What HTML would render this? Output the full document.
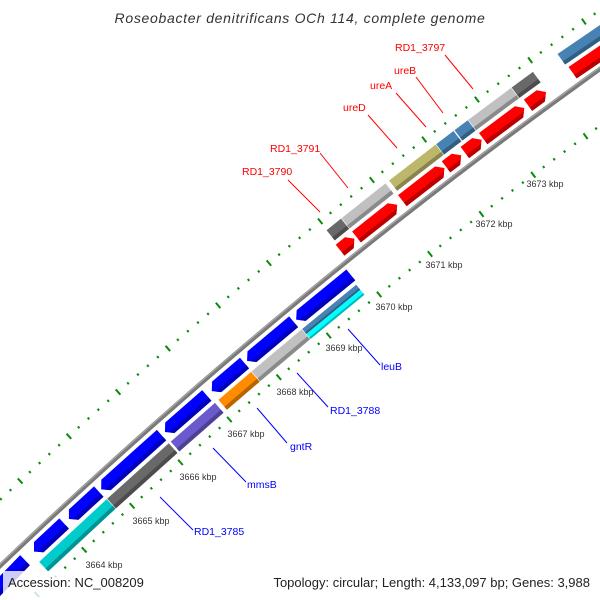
<!DOCTYPE html>
<html><head><meta charset="utf-8">
<style>
html,body{margin:0;padding:0;background:#fff;width:600px;height:600px;overflow:hidden;}
svg{display:block;font-family:"Liberation Sans","DejaVu Sans",sans-serif;}
</style></head>
<body>
<svg id="s" width="600" height="600" viewBox="0 0 600 600" xmlns="http://www.w3.org/2000/svg">
<rect width="600" height="600" fill="#fff"/>
<g id="map"></g>
<g font-size="10.5">
<line x1="288" y1="180" x2="320" y2="212" stroke="#f00" stroke-width="1"/>
<line x1="320" y1="153" x2="348" y2="188" stroke="#f00" stroke-width="1"/>
<line x1="368" y1="115" x2="397" y2="148" stroke="#f00" stroke-width="1"/>
<line x1="396" y1="93" x2="426" y2="127" stroke="#f00" stroke-width="1"/>
<line x1="416" y1="77" x2="443" y2="113" stroke="#f00" stroke-width="1"/>
<line x1="445" y1="55" x2="473" y2="89" stroke="#f00" stroke-width="1"/>
<text x="242" y="175" fill="#f00">RD1_3790</text>
<text x="270" y="152" fill="#f00">RD1_3791</text>
<text x="343" y="111" fill="#f00">ureD</text>
<text x="370" y="89" fill="#f00">ureA</text>
<text x="394" y="74" fill="#f00">ureB</text>
<text x="395" y="51" fill="#f00">RD1_3797</text>
<line x1="348" y1="329" x2="380" y2="365" stroke="#00f" stroke-width="1"/>
<line x1="297" y1="373" x2="328" y2="407" stroke="#00f" stroke-width="1"/>
<line x1="257" y1="408" x2="287" y2="443" stroke="#00f" stroke-width="1"/>
<line x1="213" y1="448" x2="246" y2="482" stroke="#00f" stroke-width="1"/>
<line x1="160" y1="497" x2="193" y2="530" stroke="#00f" stroke-width="1"/>
<text x="381" y="370" fill="#00f">leuB</text>
<text x="330" y="414" fill="#00f">RD1_3788</text>
<text x="290" y="450" fill="#00f">gntR</text>
<text x="247" y="488" fill="#00f">mmsB</text>
<text x="194" y="535" fill="#00f">RD1_3785</text>
</g>
<g font-size="9" fill="#333" text-anchor="middle">
<text x="104" y="568">3664 kbp</text>
<text x="151" y="524">3665 kbp</text>
<text x="198" y="480">3666 kbp</text>
<text x="246" y="437">3667 kbp</text>
<text x="295" y="395">3668 kbp</text>
<text x="344" y="351">3669 kbp</text>
<text x="394" y="310">3670 kbp</text>
<text x="444" y="268">3671 kbp</text>
<text x="494" y="227">3672 kbp</text>
<text x="545" y="187">3673 kbp</text>
</g>
<text x="300" y="23" font-size="14" font-style="italic" fill="#333" text-anchor="middle" letter-spacing="0.7">Roseobacter denitrificans OCh 114, complete genome</text>
<rect x="3" y="571" width="148" height="29" fill="#fff" fill-opacity="0.8"/>
<rect x="255" y="571" width="342" height="29" fill="#fff" fill-opacity="0.8"/>
<text x="8" y="587" font-size="13" fill="#222">Accession: NC_008209</text>
<text x="590" y="587" font-size="13" fill="#222" text-anchor="end">Topology: circular; Length: 4,133,097 bp; Genes: 3,988</text>
</svg>
<script>
(function(){
var NS="http://www.w3.org/2000/svg";
var g=document.getElementById("map");
var CX=3801,CY=4544,R=5502;
function pt(k,r){var t=(227.06+(k-3664)*0.683)*Math.PI/180;return [CX+r*Math.cos(t),CY+r*Math.sin(t)];}
function el(n,a){var e=document.createElementNS(NS,n);for(var x in a)e.setAttribute(x,a[x]);g.appendChild(e);return e;}
function poly(ps,fill){el("polygon",{points:ps.map(function(p){return p[0].toFixed(2)+","+p[1].toFixed(2)}).join(" "),fill:fill});}
function dark(c,f){var n=parseInt(c.slice(1),16);var r=(n>>16)&255,gg=(n>>8)&255,b=n&255;
 return "rgb("+Math.round(r*f)+","+Math.round(gg*f)+","+Math.round(b*f)+")";}
function line(k1,k2,r){var ps=[];for(var k=k1;k<=k2;k+=0.5)ps.push(pt(k,r));return ps;}
var bb=line(3655,3680,R);
el("polyline",{points:bb.map(function(p){return p.join(",")}).join(" "),fill:"none",stroke:"#7a7a7a","stroke-width":4.5});
var bb2=line(3655,3680,R+1.3);
el("polyline",{points:bb2.map(function(p){return p.join(",")}).join(" "),fill:"none",stroke:"#a8a8a8","stroke-width":1.2});
function ticks(r){
 for(var i=0;i<=100;i++){var k=3659+i*0.2;var major=(i%5==0);
  var h=major?3.5:1.2;var a=pt(k,r-h),b=pt(k,r+h);
  el("line",{x1:a[0],y1:a[1],x2:b[0],y2:b[1],stroke:"#0a8a0a","stroke-width":2});}
}
ticks(R+48);ticks(R-46);
var TIP=0.1;
function gene(k1,k2,ri,ro,col,dir){
 var rm=(ri+ro)/2, rs=ri+(ro-ri)*0.3;
 function shape(a,b){
  var ps;
  if(dir==1){var kt=Math.max(k1,k2-TIP);
   ps=[pt(k1,a),pt(k1,b),pt(kt,b),pt(k2,rm),pt(kt,a)];
  }else if(dir==-1){var kt2=Math.min(k2,k1+TIP);
   ps=[pt(k2,a),pt(k2,b),pt(kt2,b),pt(k1,rm),pt(kt2,a)];
  }else ps=[pt(k1,a),pt(k1,b),pt(k2,b),pt(k2,a)];
  return ps;}
 poly(shape(ri,ro),col);
 var ps;
 if(dir==0){ps=[pt(k1,ri),pt(k1,rs),pt(k2,rs),pt(k2,ri)];}
 else if(dir==1){var kt=Math.max(k1,k2-TIP);var f=(rs-ri)/(rm-ri);var kk=kt+(k2-kt)*f;
  ps=[pt(k1,ri),pt(k1,rs),pt(kk,rs),pt(kt,ri)];}
 else {var kt2=Math.min(k2,k1+TIP);var f2=(rs-ri)/(rm-ri);var kk2=kt2-(kt2-k1)*f2;
  ps=[pt(k2,ri),pt(k2,rs),pt(kk2,rs),pt(kt2,ri)];}
 poly(ps,dark(col,0.72));
}
var Ri1=R-20,Ro1=R-6,Ri2=R-37,Ro2=R-24;
[[3656,3663.23],[3663.42,3664.05],[3664.15,3664.77],[3664.82,3666.06],[3666.13,3666.98],[3667.08,3667.74],[3667.79,3668.72],[3668.77,3669.85]]
.forEach(function(a){gene(a[0],a[1],Ri1,Ro1,"#0000ff",-1);});
gene(3663.37,3664.78,Ri2,Ro2,"#00cccc",0);
gene(3664.79,3666.06,Ri2,Ro2,"#696969",0);
gene(3666.1,3667.0,Ri2,Ro2,"#6a5acd",0);
gene(3667.07,3667.73,Ri2,Ro2,"#ff8c00",0);
gene(3667.74,3668.74,Ri2,Ro2,"#c0c0c0",0);
gene(3668.75,3669.82,R-30.5,Ro2,"#4682b4",0);
gene(3668.75,3669.82,Ri2,R-30.5,"#00ffff",0);
var Fi1=R+6,Fo1=R+20,Fi2=R+24,Fo2=R+37;
[[3669.96,3670.24],[3670.28,3671.07],[3671.17,3671.98],[3672.01,3672.30],[3672.37,3672.69],[3672.72,3673.50],[3673.57,3673.91],[3674.41,3679]]
.forEach(function(a){gene(a[0],a[1],Fi1,Fo1,"#ff0000",1);});
gene(3669.99,3670.27,Fi2,Fo2,"#696969",0);
gene(3670.28,3671.13,Fi2,Fo2,"#c0c0c0",0);
gene(3671.2,3672.09,Fi2,Fo2,"#bdb76b",0);
gene(3672.1,3672.43,Fi2,Fo2,"#4682b4",0);
gene(3672.45,3672.70,Fi2,Fo2,"#4682b4",0);
gene(3672.71,3673.52,Fi2,Fo2,"#c0c0c0",0);
gene(3673.53,3673.93,Fi2,Fo2,"#696969",0);
gene(3674.39,3679,Fi2,Fo2,"#4682b4",0);
})();
</script>
</body></html>
